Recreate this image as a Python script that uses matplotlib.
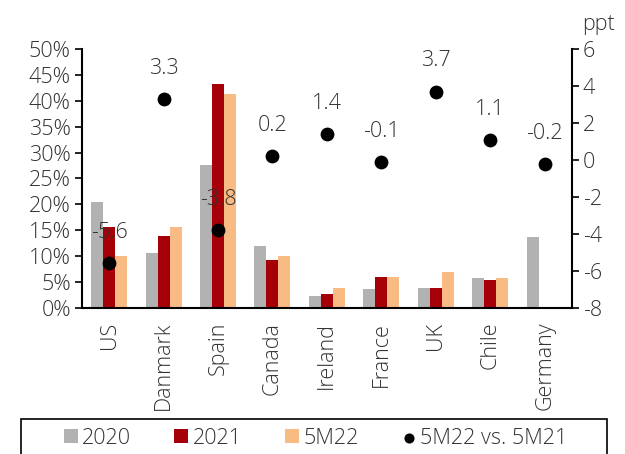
import numpy as np
import matplotlib.pyplot as plt
from matplotlib.patches import Rectangle
from matplotlib.ticker import PercentFormatter

plt.rcParams['font.family'] = ['Open Sans', 'DejaVu Sans']
plt.rcParams['font.weight'] = 'light'
plt.rcParams['axes.unicode_minus'] = False

# --- data ---
countries = ['US', 'Danmark', 'Spain', 'Canada', 'Ireland', 'France', 'UK', 'Chile', 'Germany']
share_2020 = [20.5, 10.6, 27.5, 12.0, 2.3, 3.7, 3.9, 5.7, 13.6]
share_2021 = [15.6, 13.8, 43.2, 9.3, 2.6, 6.0, 3.9, 5.3, 0.0]
share_5m22 = [10.1, 15.6, 41.3, 10.1, 3.9, 6.0, 7.0, 5.8, 0.0]
diff_ppt = [-5.6, 3.3, -3.8, 0.2, 1.4, -0.1, 3.7, 1.1, -0.2]

c2020 = '#b2b2b2'
c2021 = '#a50008'
c5m22 = '#f9bb84'
txt = '#333333'
fs = 15.5

fig = plt.figure(figsize=(6.25, 4.54), dpi=100)
ax = fig.add_axes([0.131, 0.322, 0.784, 0.570])
ax2 = ax.twinx()

x = np.arange(len(countries))
w = 0.22
ax.bar(x - w, share_2020, w, color=c2020, label='2020')
ax.bar(x, share_2021, w, color=c2021, label='2021')
ax.bar(x + w, share_5m22, w, color=c5m22, label='5M22')

ax2.scatter(x, diff_ppt, s=80, color='black', zorder=3, label='5M22 vs. 5M21')
for xi, v in zip(x, diff_ppt):
    ax2.annotate(f'{v:.1f}', (xi, v), xytext=(0, 22), textcoords='offset points',
                 ha='center', va='center', fontsize=fs, color=txt)

ax.set_xlim(-0.5, len(countries) - 0.5)
ax.set_ylim(0, 50)
ax.set_yticks(np.arange(0, 51, 5))
ax.yaxis.set_major_formatter(PercentFormatter(decimals=0))
ax2.set_ylim(-8, 6)
ax2.set_yticks(np.arange(-8, 7, 2))

ax.set_xticks(x)
ax.set_xticklabels(countries, rotation=90, fontsize=fs, color=txt)
ax.tick_params(axis='x', length=0, pad=10)
ax.tick_params(axis='y', labelsize=fs, labelcolor=txt, length=5, width=1.2, pad=3)
ax2.tick_params(axis='y', labelsize=fs, labelcolor=txt, length=5, width=1.2, pad=3)

for a in (ax, ax2):
    a.spines['top'].set_visible(False)
ax.spines['right'].set_visible(False)
ax2.spines['left'].set_visible(False)
ax2.spines['bottom'].set_visible(False)
for s in ('left', 'bottom'):
    ax.spines[s].set_linewidth(1.5)
ax2.spines['right'].set_linewidth(1.5)

fig.text(0.958, 0.945, 'ppt', fontsize=fs, color=txt, ha='center', va='center')

# legend frame drawn separately so it can run past the bottom edge
fig.patches.append(Rectangle((0.034, -0.05), 0.937, 0.127, transform=fig.transFigure,
                             fill=False, edgecolor='black', linewidth=1.2))

h1, l1 = ax.get_legend_handles_labels()
h2, l2 = ax2.get_legend_handles_labels()
leg = fig.legend(h1 + h2, l1 + l2, loc='center', ncol=4,
                 bbox_to_anchor=(0.505, 0.035), fontsize=fs, frameon=False,
                 handlelength=0.65, handleheight=0.65, handletextpad=0.2,
                 columnspacing=2.0, markerscale=0.7)
for t in leg.get_texts():
    t.set_color(txt)

plt.savefig('out.png', dpi=100)
